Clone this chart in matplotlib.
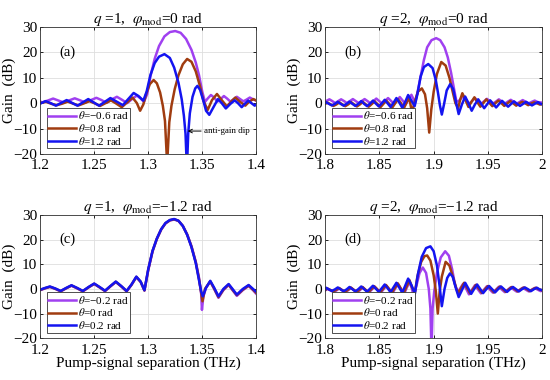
import matplotlib
matplotlib.use('Agg')
import matplotlib.pyplot as plt

plt.rcParams['font.family'] = ['Liberation Serif', 'DejaVu Serif']
plt.rcParams['mathtext.fontset'] = 'stix'

# colours of the three theta curves
col_pur = '#a040f0'
col_brn = '#a03c10'
col_blu = '#1414f0'

# ---- panel (a): q=1, phi_mod=0, theta = -0.6 / 0.8 / 1.2 rad ----
a_pur = [(1.200, 0.6), (1.202, 0.3), (1.207, 1.0), (1.212, 1.8), (1.217, 1.0), (1.222, 0.2),
         (1.227, 1.1), (1.232, 1.9), (1.237, 1.1), (1.242, 0.2), (1.247, 1.2), (1.252, 2.1),
         (1.2568, 1.2), (1.2615, 0.1), (1.266, 1.4), (1.271, 2.5), (1.2758, 1.3), (1.2805, 0.0),
         (1.285, 1.6), (1.2895, 3.0), (1.293, 1.8), (1.296, 0.5), (1.299, 3.5), (1.302, 10.5),
         (1.306, 17.5), (1.310, 22.5), (1.315, 26.3), (1.320, 28.0), (1.325, 28.4), (1.330, 27.7),
         (1.335, 25.3), (1.340, 21.0), (1.344, 16.0), (1.347, 11.0), (1.350, 4.5), (1.3525, 0.5),
         (1.355, 1.8), (1.358, 3.2), (1.361, 2.2), (1.364, 0.6), (1.367, 1.6), (1.370, 2.8),
         (1.373, 1.8), (1.376, 0.6), (1.379, 1.5), (1.382, 2.5), (1.385, 1.6), (1.388, 0.7),
         (1.391, 1.4), (1.394, 2.2), (1.397, 1.5), (1.400, 1.0)]
a_brn = [(1.200, 0.0), (1.2055, 0.5), (1.2105, -0.3), (1.2155, -0.8), (1.2205, -0.2), (1.2255, 0.6),
         (1.2305, -0.2), (1.2355, -0.9), (1.2405, -0.1), (1.2455, 0.8), (1.2505, -0.1), (1.2555, -1.1),
         (1.2605, 0.0), (1.2655, 1.1), (1.2705, -0.2), (1.2755, -1.6), (1.2805, 0.3), (1.2855, 2.2),
         (1.2895, 0.0), (1.2925, -3.0), (1.2955, -0.5), (1.298, 3.5), (1.3015, 7.5), (1.305, 9.1),
         (1.308, 7.8), (1.311, 4.2), (1.3135, -1.0), (1.3155, -7.0), (1.3175, -24.0), (1.3195, -7.5),
         (1.3215, -1.0), (1.3245, 5.5), (1.328, 11.0), (1.332, 15.3), (1.336, 17.4), (1.340, 16.3),
         (1.344, 12.5), (1.348, 6.5), (1.351, 1.0), (1.355, -2.7), (1.359, 1.2), (1.3636, 3.6),
         (1.368, 1.2), (1.3728, -1.3), (1.3767, 0.6), (1.3806, 2.2), (1.385, 0.5), (1.3898, -1.0),
         (1.3935, 0.6), (1.3972, 1.6), (1.400, 1.0)]
a_blu = [(1.200, -0.2), (1.205, 0.8), (1.2098, 0.0), (1.2145, -1.0), (1.2195, 0.1), (1.2245, 1.2),
         (1.2295, 0.1), (1.2345, -1.0), (1.2395, 0.3), (1.2445, 1.6), (1.2495, 0.3), (1.2545, -1.0),
         (1.2598, 0.5), (1.265, 2.0), (1.2708, 0.6), (1.2765, -0.8), (1.2815, 1.6), (1.2865, 4.0),
         (1.291, 2.8), (1.2955, 1.0), (1.2985, 4.5), (1.302, 11.0), (1.306, 15.8), (1.310, 18.3),
         (1.315, 19.3), (1.320, 17.8), (1.324, 14.0), (1.328, 8.0), (1.331, 1.5), (1.333, -5.0),
         (1.3345, -12.0), (1.3358, -26.0), (1.337, -12.0), (1.3385, -4.0), (1.341, 2.5), (1.3435, 5.8),
         (1.3455, 6.8), (1.348, 5.2), (1.351, 1.0), (1.3535, -3.0), (1.3565, -4.6), (1.3605, -1.5),
         (1.3645, 1.6), (1.368, 0.0), (1.3718, -2.1), (1.376, -0.3), (1.380, 1.1), (1.383, 0.0),
         (1.3865, -1.6), (1.3895, -0.2), (1.3925, 1.0), (1.3955, 0.0), (1.3985, -1.0), (1.400, -0.5)]

# ---- panel (b): q=2, phi_mod=0 ----
b_pur = [(1.800, 0.6), (1.804, 1.5), (1.8067, 0.8), (1.8094, 0.0), (1.8121, 0.8), (1.8148, 1.5),
         (1.8175, 0.8), (1.8202, 0.0), (1.8229, 0.8), (1.8256, 1.6), (1.8283, 0.8), (1.831, 0.0),
         (1.8337, 0.8), (1.8364, 1.6), (1.8391, 0.8), (1.8418, -0.1), (1.8445, 0.8), (1.8472, 1.8),
         (1.8499, 0.8), (1.8526, -0.2), (1.8553, 0.9), (1.858, 2.0), (1.8607, 0.9), (1.8634, -0.3),
         (1.8661, 1.0), (1.8688, 2.4), (1.8715, 1.0), (1.8742, -0.5), (1.877, 1.5), (1.8795, 3.3),
         (1.8815, 1.5), (1.883, 0.2), (1.885, 4.0), (1.888, 10.5), (1.891, 17.0), (1.894, 22.0),
         (1.898, 24.8), (1.9023, 25.6), (1.906, 24.8), (1.910, 22.0), (1.913, 18.0), (1.916, 12.0),
         (1.919, 5.0), (1.921, 0.5), (1.9235, 1.0), (1.927, 2.7), (1.930, 1.2), (1.9325, -0.3),
         (1.9353, 0.8), (1.938, 2.0), (1.9408, 0.8), (1.9435, -0.3), (1.9463, 0.7), (1.949, 1.7),
         (1.9518, 0.7), (1.9545, -0.2), (1.9573, 0.6), (1.960, 1.5), (1.9628, 0.6), (1.9655, -0.2),
         (1.9683, 0.6), (1.971, 1.3), (1.9738, 0.5), (1.9765, -0.2), (1.9793, 0.5), (1.982, 1.2),
         (1.9848, 0.5), (1.9875, -0.1), (1.9903, 0.5), (1.993, 1.0), (1.9958, 0.4), (2.000, 0.2)]
b_brn = [(1.800, -0.3), (1.8024, 0.2), (1.8051, -0.5), (1.8078, -1.1), (1.8105, -0.5), (1.8132, 0.3),
         (1.8159, -0.5), (1.8186, -1.2), (1.8213, -0.5), (1.824, 0.4), (1.8267, -0.5), (1.8294, -1.3),
         (1.8321, -0.5), (1.8348, 0.5), (1.8375, -0.5), (1.8402, -1.4), (1.8429, -0.4), (1.8456, 0.7),
         (1.8483, -0.4), (1.851, -1.6), (1.8537, -0.3), (1.8564, 1.0), (1.8591, -0.3), (1.8618, -1.8),
         (1.8645, -0.1), (1.8672, 1.5), (1.8699, 0.0), (1.8726, -2.0), (1.8753, 0.5), (1.8775, 2.2),
         (1.880, -3.7), (1.8825, 0.5), (1.8855, 4.5), (1.8891, 5.8), (1.892, 3.5), (1.894, -2.0),
         (1.8959, -11.6), (1.8978, -2.5), (1.900, 4.5), (1.903, 11.5), (1.907, 16.2), (1.911, 14.8),
         (1.9145, 10.0), (1.9175, 4.5), (1.920, 0.0), (1.9225, -2.0), (1.9245, 1.5), (1.9264, 3.9),
         (1.929, 1.5), (1.932, -1.5), (1.9348, 0.5), (1.9375, 2.3), (1.9403, 0.3), (1.943, -1.4),
         (1.9458, 0.1), (1.9485, 1.5), (1.9513, 0.1), (1.954, -1.2), (1.9568, 0.0), (1.9595, 1.0),
         (1.9623, 0.0), (1.965, -1.1), (1.9678, -0.1), (1.9705, 0.8), (1.9733, -0.1), (1.976, -1.0),
         (1.9788, -0.1), (1.9815, 0.5), (1.9843, -0.1), (1.987, -0.8), (1.9898, -0.1), (1.9925, 0.3),
         (1.9953, -0.1), (1.998, -0.6), (2.000, -0.3)]
b_blu = [(1.800, 0.0), (1.8009, 0.4), (1.8036, -0.3), (1.8063, -0.9), (1.809, -0.3), (1.8117, 0.5),
         (1.8144, -0.3), (1.8171, -1.0), (1.8198, -0.3), (1.8225, 0.6), (1.8252, -0.3), (1.8279, -1.1),
         (1.8306, -0.3), (1.8333, 0.8), (1.836, -0.3), (1.8387, -1.2), (1.8414, -0.2), (1.8441, 1.0),
         (1.8468, -0.2), (1.8495, -1.3), (1.8522, -0.1), (1.8549, 1.3), (1.8576, -0.1), (1.8603, -1.5),
         (1.863, 0.1), (1.8657, 2.0), (1.8684, 0.2), (1.8711, -1.8), (1.8738, 0.5), (1.8765, 3.2),
         (1.8795, 1.0), (1.8825, -1.2), (1.885, 3.5), (1.888, 10.5), (1.891, 14.2), (1.895, 15.4),
         (1.899, 13.8), (1.902, 9.0), (1.904, 4.0), (1.9058, -1.0), (1.9075, -4.5), (1.9095, -0.5),
         (1.912, 5.0), (1.9152, 7.5), (1.918, 5.5), (1.9205, 0.5), (1.923, -4.3), (1.926, -0.5),
         (1.929, 2.6), (1.932, 0.0), (1.935, -3.0), (1.938, -0.5), (1.941, 1.5), (1.9438, -0.3),
         (1.9465, -2.0), (1.9493, -0.4), (1.952, 1.1), (1.9548, -0.3), (1.9575, -1.7), (1.9603, -0.3),
         (1.963, 0.9), (1.9658, -0.3), (1.9685, -1.4), (1.9713, -0.3), (1.974, 0.7), (1.9768, -0.3),
         (1.9795, -1.1), (1.9823, -0.3), (1.985, 0.5), (1.9878, -0.2), (1.9905, -0.9), (1.9933, -0.2),
         (1.996, 0.4), (1.998, -0.2), (2.000, -0.5)]

# ---- panel (c): q=1, phi_mod=-1.2, theta = -0.2 / 0 / 0.2 rad ----
c_pur = [(1.200, -0.5), (1.2045, 0.2), (1.209, 0.8), (1.214, 0.0), (1.219, -1.0), (1.224, 0.2),
         (1.229, 1.3), (1.2343, 0.2), (1.2395, -1.0), (1.2448, 0.6), (1.250, 2.0), (1.255, 0.6),
         (1.260, -0.9), (1.265, 1.0), (1.270, 2.8), (1.275, 1.0), (1.280, -1.0), (1.2845, 1.6),
         (1.289, 4.8), (1.293, 2.8), (1.2965, -0.7), (1.300, 7.6), (1.304, 15.2), (1.308, 20.3),
         (1.312, 24.1), (1.316, 26.6), (1.320, 27.8), (1.324, 28.2), (1.328, 27.6), (1.332, 25.6),
         (1.336, 22.2), (1.340, 17.4), (1.344, 11.0), (1.347, 4.5), (1.349, -2.0), (1.3497, -8.5),
         (1.351, -3.0), (1.3535, 0.5), (1.3574, 3.0), (1.361, 0.0), (1.365, -3.6), (1.3695, -0.5),
         (1.3744, 1.6), (1.378, -0.5), (1.382, -2.8), (1.3875, -0.5), (1.3929, 1.2), (1.397, -0.5),
         (1.400, -2.0)]
c_brn = [(1.200, -0.4), (1.2045, 0.3), (1.209, 0.9), (1.214, 0.1), (1.219, -0.9), (1.224, 0.3),
         (1.229, 1.4), (1.2343, 0.3), (1.2395, -0.9), (1.2448, 0.7), (1.250, 2.1), (1.255, 0.7),
         (1.260, -0.8), (1.265, 1.1), (1.270, 2.9), (1.275, 1.1), (1.280, -0.9), (1.2845, 1.7),
         (1.289, 4.9), (1.293, 2.9), (1.2965, -0.6), (1.300, 7.8), (1.304, 15.4), (1.308, 20.4),
         (1.312, 24.2), (1.316, 26.7), (1.320, 27.9), (1.324, 28.3), (1.328, 27.7), (1.332, 25.6),
         (1.336, 22.1), (1.340, 17.2), (1.344, 10.8), (1.347, 4.0), (1.349, -1.5), (1.3502, -5.0),
         (1.3525, 0.0), (1.3574, 3.1), (1.361, 0.2), (1.365, -3.3), (1.3695, -0.3), (1.3744, 1.8),
         (1.378, -0.3), (1.382, -2.5), (1.3875, -0.3), (1.3929, 1.4), (1.397, -0.3), (1.400, -1.6)]
c_blu = [(1.200, -0.3), (1.2045, 0.4), (1.209, 1.0), (1.214, 0.2), (1.219, -0.8), (1.224, 0.4),
         (1.229, 1.5), (1.2343, 0.4), (1.2395, -0.8), (1.2448, 0.8), (1.250, 2.2), (1.255, 0.8),
         (1.260, -0.7), (1.265, 1.2), (1.270, 3.0), (1.275, 1.2), (1.280, -0.8), (1.2845, 1.8),
         (1.289, 5.0), (1.293, 3.0), (1.2965, -0.5), (1.300, 8.0), (1.304, 15.5), (1.308, 20.5),
         (1.312, 24.3), (1.316, 26.8), (1.320, 28.0), (1.324, 28.4), (1.328, 27.7), (1.332, 25.6),
         (1.336, 22.0), (1.340, 17.0), (1.344, 10.5), (1.347, 3.5), (1.349, -1.0), (1.3505, -3.0),
         (1.3535, 0.5), (1.3574, 3.3), (1.361, 0.5), (1.365, -3.0), (1.3695, 0.0), (1.3744, 2.0),
         (1.378, 0.0), (1.382, -2.3), (1.3875, 0.0), (1.3929, 1.6), (1.397, 0.0), (1.400, -1.2)]

# ---- panel (d): q=2, phi_mod=-1.2 ----
d_pur = [(1.800, -0.6), (1.8024, 0.0), (1.8051, -0.6), (1.8078, -1.2), (1.8105, -0.6), (1.8132, 0.2),
         (1.8159, -0.6), (1.8186, -1.3), (1.8213, -0.5), (1.824, 0.4), (1.8267, -0.5), (1.8294, -1.4),
         (1.8321, -0.5), (1.8348, 0.6), (1.8375, -0.5), (1.8402, -1.5), (1.8429, -0.3), (1.8456, 0.9),
         (1.8483, -0.3), (1.851, -1.7), (1.8537, -0.2), (1.8564, 1.3), (1.8591, -0.2), (1.8618, -1.9),
         (1.8645, 0.1), (1.8672, 2.0), (1.8699, 0.0), (1.8726, -2.2), (1.8753, 0.6), (1.878, 2.8),
         (1.880, 0.0), (1.8815, -3.0), (1.8845, 2.0), (1.887, 6.5), (1.890, 8.7), (1.893, 6.5),
         (1.8955, 0.0), (1.897, -8.0), (1.898, -25.0), (1.899, -8.0), (1.9005, -1.0), (1.903, 6.5),
         (1.9065, 12.8), (1.9106, 15.3), (1.914, 13.5), (1.917, 8.0), (1.9195, 2.0), (1.922, -1.5),
         (1.9245, 0.3), (1.927, 2.0), (1.930, 0.0), (1.9325, -2.2), (1.9353, -0.3), (1.938, 1.5),
         (1.9408, -0.2), (1.9435, -1.8), (1.9463, -0.3), (1.949, 1.1), (1.9518, -0.3), (1.9545, -1.5),
         (1.9573, -0.3), (1.960, 0.9), (1.9628, -0.3), (1.9655, -1.3), (1.9683, -0.3), (1.971, 0.7),
         (1.9738, -0.3), (1.9765, -1.1), (1.9793, -0.3), (1.982, 0.5), (1.9848, -0.3), (1.9875, -1.0),
         (1.9903, -0.3), (1.993, 0.4), (1.9958, -0.3), (1.9985, -0.9), (2.000, -0.7)]
d_brn = [(1.800, -0.5), (1.8021, 0.2), (1.8048, -0.4), (1.8075, -1.0), (1.8102, -0.4), (1.8129, 0.4),
         (1.8156, -0.4), (1.8183, -1.1), (1.821, -0.4), (1.8237, 0.6), (1.8264, -0.3), (1.8291, -1.2),
         (1.8318, -0.3), (1.8345, 0.8), (1.8372, -0.3), (1.8399, -1.3), (1.8426, -0.1), (1.8453, 1.1),
         (1.848, -0.1), (1.8507, -1.4), (1.8534, 0.1), (1.8561, 1.6), (1.8588, 0.1), (1.8615, -1.5),
         (1.8642, 0.4), (1.8669, 2.3), (1.8696, 0.3), (1.8723, -1.8), (1.875, 1.0), (1.8777, 3.6),
         (1.8802, 0.5), (1.8827, -1.5), (1.885, 5.0), (1.8885, 11.0), (1.8915, 13.3), (1.894, 13.6),
         (1.897, 11.5), (1.900, 5.5), (1.902, -1.0), (1.9038, -10.0), (1.9055, -1.0), (1.9075, 5.0),
         (1.911, 11.0), (1.9145, 9.5), (1.918, 4.5), (1.921, 0.0), (1.923, -1.5), (1.9255, 0.5),
         (1.928, 2.5), (1.931, 0.2), (1.9335, -1.8), (1.9363, 0.0), (1.939, 1.7), (1.9418, 0.0),
         (1.9445, -1.6), (1.9473, -0.1), (1.950, 1.2), (1.9528, -0.1), (1.9555, -1.4), (1.9583, -0.1),
         (1.961, 1.0), (1.9638, -0.1), (1.9665, -1.2), (1.9693, -0.1), (1.972, 0.8), (1.9748, -0.1),
         (1.9775, -1.0), (1.9803, -0.1), (1.983, 0.6), (1.9858, -0.1), (1.9885, -0.9), (1.9913, -0.1),
         (1.994, 0.5), (1.9968, -0.1), (2.000, -0.6)]
d_blu = [(1.800, -0.3), (1.8009, 0.5), (1.8036, -0.2), (1.8063, -0.8), (1.809, -0.2), (1.8117, 0.6),
         (1.8144, -0.2), (1.8171, -0.9), (1.8198, -0.2), (1.8225, 0.8), (1.8252, -0.1), (1.8279, -1.0),
         (1.8306, -0.1), (1.8333, 1.0), (1.836, -0.1), (1.8387, -1.1), (1.8414, 0.1), (1.8441, 1.3),
         (1.8468, 0.1), (1.8495, -1.2), (1.8522, 0.3), (1.8549, 1.8), (1.8576, 0.3), (1.8603, -1.3),
         (1.863, 0.6), (1.8657, 2.5), (1.8684, 0.5), (1.8711, -1.5), (1.8738, 1.3), (1.8765, 4.2),
         (1.8796, 1.5), (1.8827, -1.9), (1.8855, 6.0), (1.889, 13.0), (1.893, 16.6), (1.897, 17.3),
         (1.900, 15.3), (1.903, 9.5), (1.9055, 1.0), (1.9075, -7.0), (1.910, 0.0), (1.9125, 4.5),
         (1.915, 6.3), (1.9175, 5.0), (1.920, 1.0), (1.923, -3.3), (1.926, -0.5), (1.929, 2.5),
         (1.9318, 0.3), (1.9345, -2.0), (1.9373, 0.0), (1.940, 1.8), (1.9428, 0.0), (1.9455, -1.7),
         (1.9483, -0.2), (1.951, 1.2), (1.9538, -0.1), (1.9565, -1.4), (1.9593, -0.1), (1.962, 1.0),
         (1.9648, -0.1), (1.9675, -1.2), (1.9703, -0.1), (1.973, 0.8), (1.9758, -0.1), (1.9785, -1.0),
         (1.9813, -0.1), (1.984, 0.6), (1.9868, -0.1), (1.9895, -0.9), (1.9923, -0.1), (1.995, 0.5),
         (1.9975, -0.2), (2.000, -0.5)]

labels_top = ['$\\theta$=\u22120.6 rad', '$\\theta$=0.8 rad', '$\\theta$=1.2 rad']
labels_bot = ['$\\theta$=\u22120.2 rad', '$\\theta$=0 rad', '$\\theta$=0.2 rad']
titles = ['$q$ =1,  $\\varphi_{\\rm mod}$=0 rad', '$q$ =2,  $\\varphi_{\\rm mod}$=0 rad',
          '$q$ =1,  $\\varphi_{\\rm mod}$=\u22121.2 rad', '$q$ =2,  $\\varphi_{\\rm mod}$=\u22121.2 rad']
tags = ['(a)', '(b)', '(c)', '(d)']
xt_1 = [1.2, 1.25, 1.3, 1.35, 1.4]
xt_2 = [1.8, 1.85, 1.9, 1.95, 2.0]
xtl_1 = ['1.2', '1.25', '1.3', '1.35', '1.4']
xtl_2 = ['1.8', '1.85', '1.9', '1.95', '2']
yt = [-20, -10, 0, 10, 20, 30]

fig = plt.figure(figsize=(5.5, 3.8), dpi=100)
boxes = [[0.073, 0.595, 0.393, 0.334], [0.591, 0.595, 0.395, 0.334],
         [0.073, 0.110, 0.393, 0.324], [0.591, 0.110, 0.395, 0.324]]
panels = [(a_pur, a_brn, a_blu), (b_pur, b_brn, b_blu), (c_pur, c_brn, c_blu), (d_pur, d_brn, d_blu)]

for i in range(4):
    ax = fig.add_axes(boxes[i])
    labs = labels_top if i < 2 else labels_bot
    for data, col, lab in zip(panels[i], [col_pur, col_brn, col_blu], labs):
        xs, ys = zip(*data)
        ax.plot(xs, ys, color=col, lw=1.8, label=lab, solid_joinstyle='round')
    if i % 2 == 0:
        ax.set_xlim(1.2, 1.4)
        ax.set_xticks(xt_1)
        ax.set_xticklabels(xtl_1)
        ax.text(1.218, 20, tags[i], fontsize=10.5, va='center')
    else:
        ax.set_xlim(1.8, 2.0)
        ax.set_xticks(xt_2)
        ax.set_xticklabels(xtl_2)
        ax.text(1.818, 20, tags[i], fontsize=10.5, va='center')
    ax.set_ylim(-20, 30)
    ax.set_yticks(yt)
    ax.grid(True, color='#dedede', lw=0.6)
    ax.set_axisbelow(True)
    ax.tick_params(direction='in', length=2.5, width=0.6, labelsize=11, top=True, right=True)
    ax.tick_params(axis='x', pad=4)
    ax.tick_params(axis='y', pad=2)
    for s in ax.spines.values():
        s.set_linewidth(0.6)
        s.set_color('#333333')
    ax.set_title(titles[i], fontsize=11, pad=3)
    ax.set_ylabel('Gain  (dB)', fontsize=11)
    ax.yaxis.set_label_coords(-0.11, 0.5)
    if i >= 2:
        ax.set_xlabel('Pump-signal separation (THz)', fontsize=11, labelpad=0)
    leg = ax.legend(loc='lower left', bbox_to_anchor=(0.03, 0.045), fontsize=8, handlelength=2.5,
                    handletextpad=0.15, labelspacing=0.05, borderpad=0.15, borderaxespad=0.0,
                    fancybox=False, framealpha=1, edgecolor='#333333')
    leg.get_frame().set_linewidth(0.6)
    if i == 0:
        ax.annotate('anti-gain dip', xy=(1.3365, -11), xytext=(1.3515, -11), fontsize=6.5,
                    va='center', annotation_clip=False,
                    arrowprops=dict(arrowstyle='->', color='k', lw=0.7, shrinkA=0, shrinkB=0))

fig.savefig('out.png', dpi=100)
